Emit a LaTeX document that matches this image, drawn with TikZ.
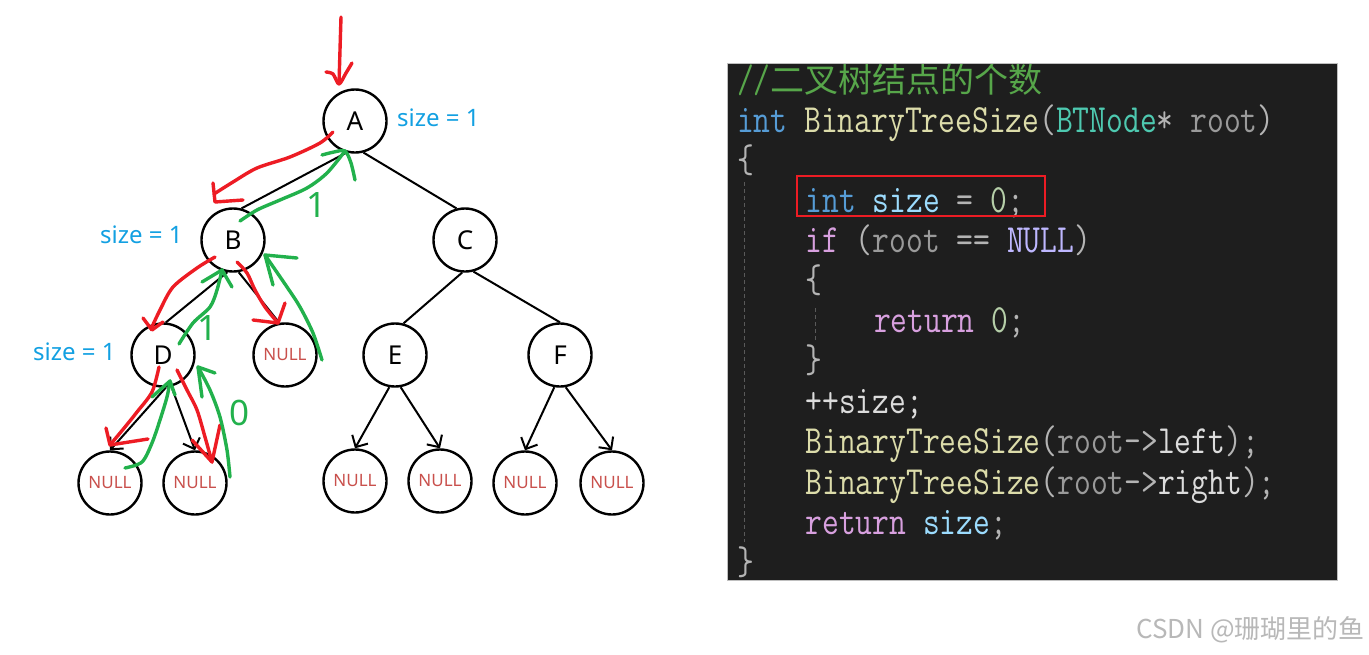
\documentclass[tikz,border=0pt]{standalone}
\usepackage{fontspec}
\setmainfont{Noto Sans}
\newfontfamily\cjk{Noto Sans CJK SC}
\newfontfamily\codefont{Latin Modern Mono}[FakeStretch=0.815]
\usetikzlibrary{arrows.meta}

\definecolor{penred}{HTML}{ED1C24}
\definecolor{pengreen}{HTML}{22B14C}
\definecolor{sizeblue}{HTML}{12A0E2}
\definecolor{nullred}{HTML}{C9504C}
\definecolor{codebg}{HTML}{1E1E1E}
\definecolor{kwblue}{HTML}{569CD6}
\definecolor{fnyellow}{HTML}{DCDCAA}
\definecolor{typeteal}{HTML}{4EC9B0}
\definecolor{paramgray}{HTML}{9A9A9A}
\definecolor{punct}{HTML}{B4B4B4}
\definecolor{varblue}{HTML}{9CDCFE}
\definecolor{numgreen}{HTML}{B5CEA8}
\definecolor{ctlpink}{HTML}{D8A0DF}
\definecolor{macpurple}{HTML}{BEB7FF}
\definecolor{plaintxt}{HTML}{DCDCDC}
\definecolor{cmtgreen}{HTML}{57A64A}
\definecolor{guidegray}{HTML}{5A5A5A}

\newcommand\cKw[1]{\textcolor{kwblue}{#1}}
\newcommand\cFn[1]{\textcolor{fnyellow}{#1}}
\newcommand\cTy[1]{\textcolor{typeteal}{#1}}
\newcommand\cPar[1]{\textcolor{paramgray}{#1}}
\newcommand\cPun[1]{\textcolor{punct}{#1}}
\newcommand\cVar[1]{\textcolor{varblue}{#1}}
\newcommand\cNum[1]{\textcolor{numgreen}{#1}}
\newcommand\cCtl[1]{\textcolor{ctlpink}{#1}}
\newcommand\cMac[1]{\textcolor{macpurple}{#1}}
\newcommand\cTxt[1]{\textcolor{plaintxt}{#1}}

\tikzset{
  tnode/.style={circle,draw,line width=2.4pt,minimum size=63pt,inner sep=0pt,
    font=\fontsize{26}{28}\selectfont},
  nullnode/.style={tnode,text=nullred,font=\fontsize{17}{20}\selectfont},
  treeline/.style={line width=2pt},
  redpen/.style={draw=penred,line width=3.4pt,line cap=round,line join=round},
  greenpen/.style={draw=pengreen,line width=3.4pt,line cap=round,line join=round},
  sizelbl/.style={anchor=west,inner sep=0pt,text=sizeblue,font=\fontsize{24}{26}\selectfont},
  numlbl/.style={inner sep=0pt,text=pengreen,font=\fontsize{35}{37}\selectfont},
  codeln/.style={anchor=base west,inner sep=0pt,font={\codefont\fontsize{40}{42}\selectfont}},
}

\begin{document}
\begin{tikzpicture}[x=1pt,y=-1pt,>={Straight Barb[length=9pt,width=18pt]}]
  \useasboundingbox[fill=white] (0,0) rectangle (1369,654);

  % tree
  \node[tnode] (A) at (355,121) {A};
  \node[tnode] (B) at (233,240) {B};
  \node[tnode] (C) at (465,240) {C};
  \node[tnode] (D) at (163,355) {D};
  \node[nullnode] (nB) at (285,355) {NULL};
  \node[tnode] (E) at (395,355) {E};
  \node[tnode] (F) at (560,355) {F};
  \node[nullnode] (dL) at (110,483) {NULL};
  \node[nullnode] (dR) at (195,483) {NULL};
  \node[nullnode] (eL) at (355,481) {NULL};
  \node[nullnode] (eR) at (440,481) {NULL};
  \node[nullnode] (fL) at (525,483) {NULL};
  \node[nullnode] (fR) at (612,483) {NULL};

  \draw[treeline] (A.-105) -- (B.75);
  \draw[treeline] (A.-75) -- (C.105);
  \draw[treeline] (B.-100) -- (D.85);
  \draw[treeline] (B.-80) -- (nB.100);
  \draw[treeline] (C.-95) -- (E.75);
  \draw[treeline] (C.-75) -- (F.north);
  \draw[treeline,->] (D.-85) -- (dL.north);
  \draw[treeline,->] (D.-75) -- (dR.north);
  \draw[treeline,->] (E.-100) -- (eL.north);
  \draw[treeline,->] (E.-80) -- (eR.north);
  \draw[treeline,->] (F.-100) -- (fL.north);
  \draw[treeline,->] (F.-80) -- (fR.north);

  \node[sizelbl] (sA) at (397,118) {size = 1};
  \node[sizelbl] (sB) at (100,235) {size = 1};
  \node[sizelbl] (sD) at (33,352) {size = 1};

  % hand drawn trace
  \draw[redpen] plot[smooth] coordinates {(341,17) (340,50) (339,84)};
  \draw[redpen] plot[smooth] coordinates {(326,72) (333,74) (339,84) (346,73) (352,63)};
  \draw[redpen] plot[smooth] coordinates {(333,132) (320,143) (290,157) (257,168) (233,182) (214,194)};
  \draw[redpen] (213,183) -- (215,202) -- (243,200);
  \draw[greenpen] plot[smooth] coordinates {(240,221) (257,210) (280,200) (307,188) (327,173) (345,151)};
  \draw[greenpen] plot[smooth] coordinates {(322,155) (334,152) (345,151) (351,163) (355,180)};
  \node[numlbl] (one1) at (317,205) {1};

  \draw[redpen] plot[smooth] coordinates {(215,257) (197,268) (173,287) (160,310) (151,329)};
  \draw[redpen] (143,318) -- (152,330) -- (163,322);
  \draw[greenpen] plot[smooth] coordinates {(179,344) (193,323) (210,307) (217,290) (222,270)};
  \draw[greenpen] (202,282) -- (222,270) -- (232,287);
  \node[numlbl] (one2) at (208,328) {1};
  \draw[redpen] plot[smooth] coordinates {(237,262) (247,273) (255,290) (265,307) (278,323)};
  \draw[redpen] (253,320) -- (278,323) -- (285,303);
  \draw[greenpen] plot[smooth] coordinates {(322,360) (313,333) (300,307) (287,287) (265,255)};
  \draw[greenpen] (297,258) -- (265,255) -- (273,285);

  \draw[redpen] plot[smooth] coordinates {(159,367) (152,392) (137,412) (125,427) (110,445)};
  \draw[redpen] (106,428) -- (110,445) -- (148,439);
  \draw[greenpen] plot[smooth] coordinates {(125,468) (142,462) (152,443) (160,420) (167,397) (170,381)};
  \draw[greenpen] (152,397) -- (170,381) -- (175,395);
  \draw[redpen] plot[smooth] coordinates {(177,370) (187,390) (197,410) (205,437) (212,462)};
  \draw[redpen] (192,440) -- (212,462) -- (220,425);
  \draw[greenpen] plot[smooth] coordinates {(230,477) (227,450) (220,417) (210,390) (198,367)};
  \draw[greenpen] (215,373) -- (198,367) -- (202,397);
  \node[numlbl] (zero) at (240,413) {0};

  % code panel
  \fill[codebg] (727,63) rectangle (1337,580);
  \begin{scope}
    \clip (727,63) rectangle (1337,580);
    \node[codeln,text=cmtgreen] (c0) at (737,92) {//{\cjk\fontsize{34}{36}\selectfont 二叉树结点的个数}};
    \node[codeln] (c1) at (737,132) {\cKw{int} \cFn{BinaryTreeSize}\cPun{(}\cTy{BTNode}\cPun{*} \cPar{root}\cPun{)}};
    \node[codeln] (c2) at (737,172) {\cPun{\{}};
    \node[codeln] (c3) at (805.4,212) {\cKw{int} \cVar{size} \cPun{=} \cNum{0}\cPun{;}};
    \node[codeln] (c4) at (805.4,252) {\cCtl{if} \cPun{(}\cPar{root} \cPun{==} \cMac{NULL}\cPun{)}};
    \node[codeln] (c5) at (805.4,292) {\cPun{\{}};
    \node[codeln] (c6) at (873.8,332) {\cCtl{return} \cNum{0}\cPun{;}};
    \node[codeln] (c7) at (805.4,372) {\cPun{\}}};
    \node[codeln] (c8) at (805.4,413) {\cTxt{++size;}};
    \node[codeln] (c9) at (805.4,453) {\cFn{BinaryTreeSize}\cPun{(}\cPar{root}\cPun{->}\cTxt{left}\cPun{);}};
    \node[codeln] (c10) at (805.4,494) {\cFn{BinaryTreeSize}\cPun{(}\cPar{root}\cPun{->}\cTxt{right}\cPun{);}};
    \node[codeln] (c11) at (805.4,534) {\cCtl{return} \cVar{size}\cPun{;}};
    \node[codeln] (c12) at (737,574) {\cPun{\}}};
    \draw[guidegray,line width=0.8pt,dash pattern=on 4pt off 3pt] (744,182) -- (744,542);
    \draw[guidegray,line width=0.8pt,dash pattern=on 4pt off 3pt] (815,308) -- (815,340);
  \end{scope}
  \draw[black!25,line width=0.8pt] (727,63) rectangle (1337,580);
  \draw[penred,line width=1.6pt] (797,176) rectangle (1045,216);

  \node[anchor=east,inner sep=0pt,text=black!28,font={\cjk\fontsize{26}{28}\selectfont}] (wm) at (1365,630) {CSDN @珊瑚里的鱼};
\end{tikzpicture}
\end{document}
